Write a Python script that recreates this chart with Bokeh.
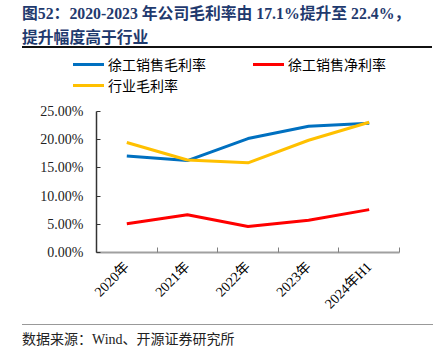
import math
from bokeh.plotting import figure
from bokeh.layouts import column
from bokeh.models import Range1d, FixedTicker, PrintfTickFormatter, Div
from bokeh.embed import file_html
from bokeh.resources import INLINE

# ---- data (values in %) ----
years = ["2020年", "2021年", "2022年", "2023年", "2024年H1"]
xcmg_gross = [17.1, 16.3, 20.2, 22.4, 22.9]
xcmg_net = [5.1, 6.7, 4.6, 5.7, 7.6]
industry_gross = [19.5, 16.4, 15.9, 19.9, 23.1]
y_ticks = [0, 5, 10, 15, 20, 25]

title_lines = ["图52：2020-2023 年公司毛利率由 17.1%提升至 22.4%，", "提升幅度高于行业"]
source_text = "数据来源：Wind、开源证券研究所"
series_names = ["徐工销售毛利率", "徐工销售净利率", "行业毛利率"]
series_colors = ["#0070C0", "#FF0000", "#FFC000"]

SERIF = "Liberation Serif, Noto Sans CJK SC"
W = 442

# ---------------- header: title, rule, legend ----------------
HT = 94
TFONT = "font:bold 15.8px 'Liberation Serif','Noto Sans CJK SC';color:#1F3A6E;"
LFONT = "font:14px 'Noto Sans CJK SC';color:#000;"


def abs_text(left, center_y, txt, font, lh=20):
    return (f'<div style="position:absolute;left:{left}px;top:{center_y - lh / 2}px;'
            f'line-height:{lh}px;white-space:nowrap;{font}">{txt}</div>')


def abs_bar(left, center_y, width, thick, color):
    return (f'<div style="position:absolute;left:{left}px;top:{center_y - thick / 2}px;'
            f'width:{width}px;height:{thick}px;background:{color};"></div>')


# legend slots: (line left, row centre) for each series
legend_slots = [(73, 64), (253, 64), (73, 85)]

parts = [abs_text(22, 11, title_lines[0], TFONT), abs_text(22, 35, title_lines[1], TFONT),
         abs_bar(22, 46.8, 410, 1.5, "#111")]
for name, color, (lx, cy) in zip(series_names, series_colors, legend_slots):
    parts.append(abs_bar(lx, cy, 31, 3, color))
    parts.append(abs_text(lx + 35, cy, name, LFONT))
top = Div(text=f'<div style="position:relative;width:{W}px;height:{HT}px;">' + "".join(parts) + '</div>',
          width=W, height=HT, margin=(0, 0, 0, 0))

# ---------------- main chart ----------------
HM = 228
FL, FR, FT, FB = 96, 399, 17, 158

p = figure(width=W, height=HM, output_backend="svg", toolbar_location=None,
           x_range=Range1d(0, len(years)), y_range=Range1d(0, 25),
           min_border_left=FL, min_border_right=W - FR,
           min_border_top=FT, min_border_bottom=HM - FB)
p.outline_line_color = None
p.xgrid.visible = False
p.ygrid.visible = False

xs = [i + 0.5 for i in range(len(years))]
for vals, c in zip([xcmg_gross, xcmg_net, industry_gross], series_colors):
    p.line(xs, vals, line_color=c, line_width=3)

xa = p.xaxis[0]
xa.ticker = FixedTicker(ticks=xs, minor_ticks=list(range(len(years) + 1)))
xa.major_label_overrides = {x: y for x, y in zip(xs, years)}
xa.major_tick_in = 0
xa.major_tick_out = 0
xa.minor_tick_in = 5
xa.minor_tick_out = 0
xa.minor_tick_line_color = "#808080"
xa.axis_line_color = "#A0A0A0"
xa.axis_line_width = 2
xa.major_label_orientation = math.pi / 4
xa.major_label_text_font = SERIF
xa.major_label_text_font_size = "14px"
xa.major_label_text_color = "#000000"
xa.major_label_standoff = 12

ya = p.yaxis[0]
ya.ticker = FixedTicker(ticks=y_ticks)
ya.formatter = PrintfTickFormatter(format="%.2f%%")
ya.major_tick_in = 4
ya.major_tick_out = 0
ya.minor_tick_line_color = None
ya.axis_line_color = "#333333"
ya.axis_line_width = 1.5
ya.major_tick_line_color = "#333333"
ya.major_label_text_font = "Liberation Serif"
ya.major_label_text_font_size = "14px"
ya.major_label_text_color = "#222222"
ya.major_label_standoff = 13

# ---------------- footer (rule + source) ----------------
HB = 36
FFONT = "font:14px 'Liberation Serif','Noto Sans CJK SC';color:#222;"
foot_parts = [abs_bar(22, 2.7, 411, 1.5, "#999"), abs_text(22, 15.5, source_text, FFONT)]
bot = Div(text=f'<div style="position:relative;width:{W}px;height:{HB}px;">' + "".join(foot_parts) + '</div>',
          width=W, height=HB, margin=(0, 0, 0, 0))

layout = column(top, p, bot, spacing=0)
open("out.html", "w").write(file_html(layout, INLINE))
